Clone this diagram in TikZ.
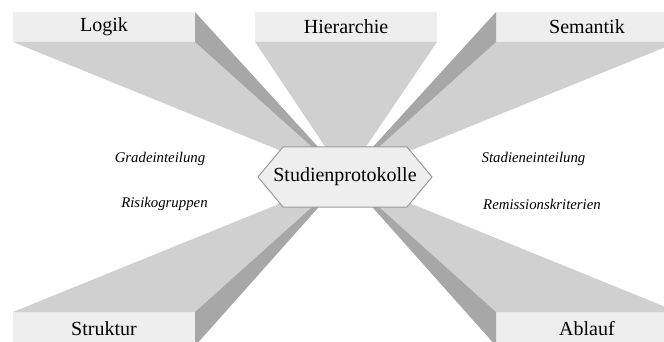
\documentclass[tikz,border=0pt]{standalone}
\usepackage{fontspec}
\setmainfont{Liberation Serif}
\begin{document}
\begin{tikzpicture}[x=0.5pt,y=-0.5pt,
  boxface/.style={fill=faceC, draw=none, minimum width=91pt, minimum height=15pt,
    inner sep=0pt, outer sep=0pt, font=\fontsize{10}{12}\selectfont},
  lowbox/.style={boxface, minimum height=17pt},
  lightface/.style={fill=lightC, draw=none},
  darkface/.style={fill=darkC, draw=none},
  hexshape/.style={fill=faceC, draw=edgeC, line width=0.5pt, line join=miter},
  topic/.style={font=\fontsize{10}{12}\selectfont, inner sep=0pt},
  aspect/.style={font=\fontsize{7.4}{9}\selectfont\itshape, inner sep=0pt}]
\definecolor{faceC}{HTML}{EEEEEE}
\definecolor{lightC}{HTML}{D0D0D0}
\definecolor{darkC}{HTML}{A7A7A7}
\definecolor{edgeC}{HTML}{9A9A9A}
\useasboundingbox (0,0) rectangle (664,342);
\clip (0,0) rectangle (664,342);

% vanishing point of the extruded boxes
\coordinate (vp) at (345.5,177);

% box fronts with their titles
\node[boxface] (logik)  at (104,27)  {Logik};
\node[boxface] (hier)   at (346,27)  {Hierarchie};
\node[boxface] (sem)    at (587,27)  {Semantik};
\node[lowbox]  (strukt) at (104,329) {\raisebox{-1pt}{Struktur}};
\node[lowbox]  (ablauf) at (587,329) {\raisebox{-1pt}{Ablauf}};

% extrusions toward the vanishing point
\fill[lightface] (logik.south west) -- (logik.south east) -- (vp) -- cycle;
\fill[darkface]  (logik.north east) -- (logik.south east) -- (vp) -- cycle;
\fill[lightface] (hier.south west) -- (hier.south east) -- (vp) -- cycle;
\fill[lightface] (sem.south west) -- (sem.south east) -- (vp) -- cycle;
\fill[darkface]  (sem.north west) -- (sem.south west) -- (vp) -- cycle;
\fill[lightface] (strukt.north west) -- (strukt.north east) -- (vp) -- cycle;
\fill[darkface]  (strukt.north east) -- (strukt.south east) -- (vp) -- cycle;
\fill[lightface] (ablauf.north west) -- (ablauf.north east) -- (vp) -- cycle;
\fill[darkface]  (ablauf.north west) -- (ablauf.south west) -- (vp) -- cycle;

% central hexagon
\coordinate (hex) at (345,177);
\draw[hexshape] ([shift={(-62,-30)}]hex) -- ([shift={(62,-30)}]hex)
  -- ([shift={(87,0)}]hex) -- ([shift={(62,30)}]hex)
  -- ([shift={(-62,30)}]hex) -- ([shift={(-87,0)}]hex) -- cycle;
\node[topic] (center) at (345,177) {Studienprotokolle};

% aspect labels
\node[aspect] (grad)  at (160,159) {Gradeinteilung};
\node[aspect] (risk)  at (164.5,204) {Risikogruppen};
\node[aspect] (stad)  at (533.5,159) {Stadieneinteilung};
\node[aspect] (remis) at (542,204) {Remissionskriterien};
\end{tikzpicture}
\end{document}
